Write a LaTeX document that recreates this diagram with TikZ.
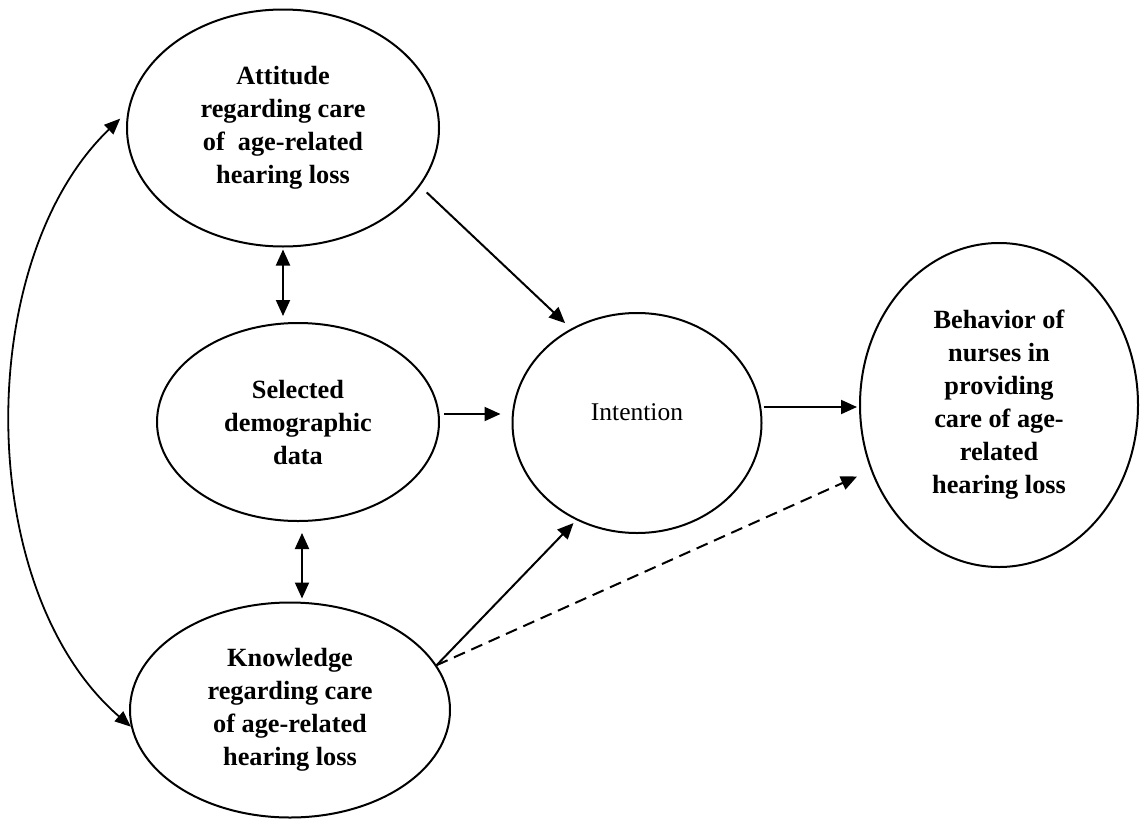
\documentclass[tikz,border=0pt]{standalone}
\usepackage{fontspec}
\setmainfont{Liberation Serif}
\usetikzlibrary{arrows.meta,shapes.geometric}
\begin{document}
\begin{tikzpicture}[x=1pt,y=-1pt,
  ell/.style={ellipse, draw, line width=2pt, inner sep=0pt, align=center,
    font=\fontsize{26.3}{33}\selectfont\bfseries},
  arr/.style={line width=2pt, -{Triangle[length=16pt,width=14pt]}},
  darr/.style={line width=2pt, {Triangle[length=16pt,width=14pt]}-{Triangle[length=16pt,width=14pt]}},
  curv/.style={line width=1.8pt, {Triangle[length=16pt,width=13pt]}-{Triangle[length=16pt,width=13pt]}},
  dashline/.style={dash pattern=on 12pt off 7pt}
]
\useasboundingbox (0,0) rectangle (1140,819);

\node[ell, minimum width=312pt, minimum height=237pt] (att) at (283,128)
  {Attitude\\regarding care\\of~ age-related\\hearing loss};
\node[ell, minimum width=282pt, minimum height=198pt] (sel) at (298,422)
  {Selected\\demographic\\data};
\node[ell, minimum width=320pt, minimum height=215pt] (know) at (290,710)
  {Knowledge\\regarding care\\of age-related\\hearing loss};
\node[ell, font=\fontsize{25.5}{33}\selectfont, text depth=22pt,
  minimum width=249pt, minimum height=220pt] (int) at (637,423) {Intention};
\node[ell, minimum width=278pt, minimum height=324pt] (beh) at (999,405)
  {Behavior of\\nurses in\\providing\\care of age-\\related\\hearing loss};

\draw[arr, shorten <=9pt, shorten >=8pt] (att.-23.3) -- (int.125.4);
\draw[darr, shorten <=2pt, shorten >=6pt] (att.south) -- (att.south |- sel.north);
\draw[darr, shorten <=11pt, shorten >=3pt] ([xshift=4pt]sel.south) -- ([xshift=4pt]sel.south |- know.north);
\draw[arr, shorten <=4pt, shorten >=11pt] ([yshift=8pt]sel.east) -- ([yshift=8pt]sel.east -| int.west);
\draw[arr, shorten <=1pt, shorten >=2pt] ([yshift=-2pt]beh.west -| int.east) -- ([yshift=-2pt]beh.west);
\draw[arr, shorten >=4pt] (know.17) -- (int.238.2);
\draw[arr, dashline, shorten >=15pt] (know.17) -- (beh.207.9);
\draw[curv, shorten <=10pt] (att.174) .. controls (-27,260) and (-27,590) .. (know.186);
\end{tikzpicture}
\end{document}
